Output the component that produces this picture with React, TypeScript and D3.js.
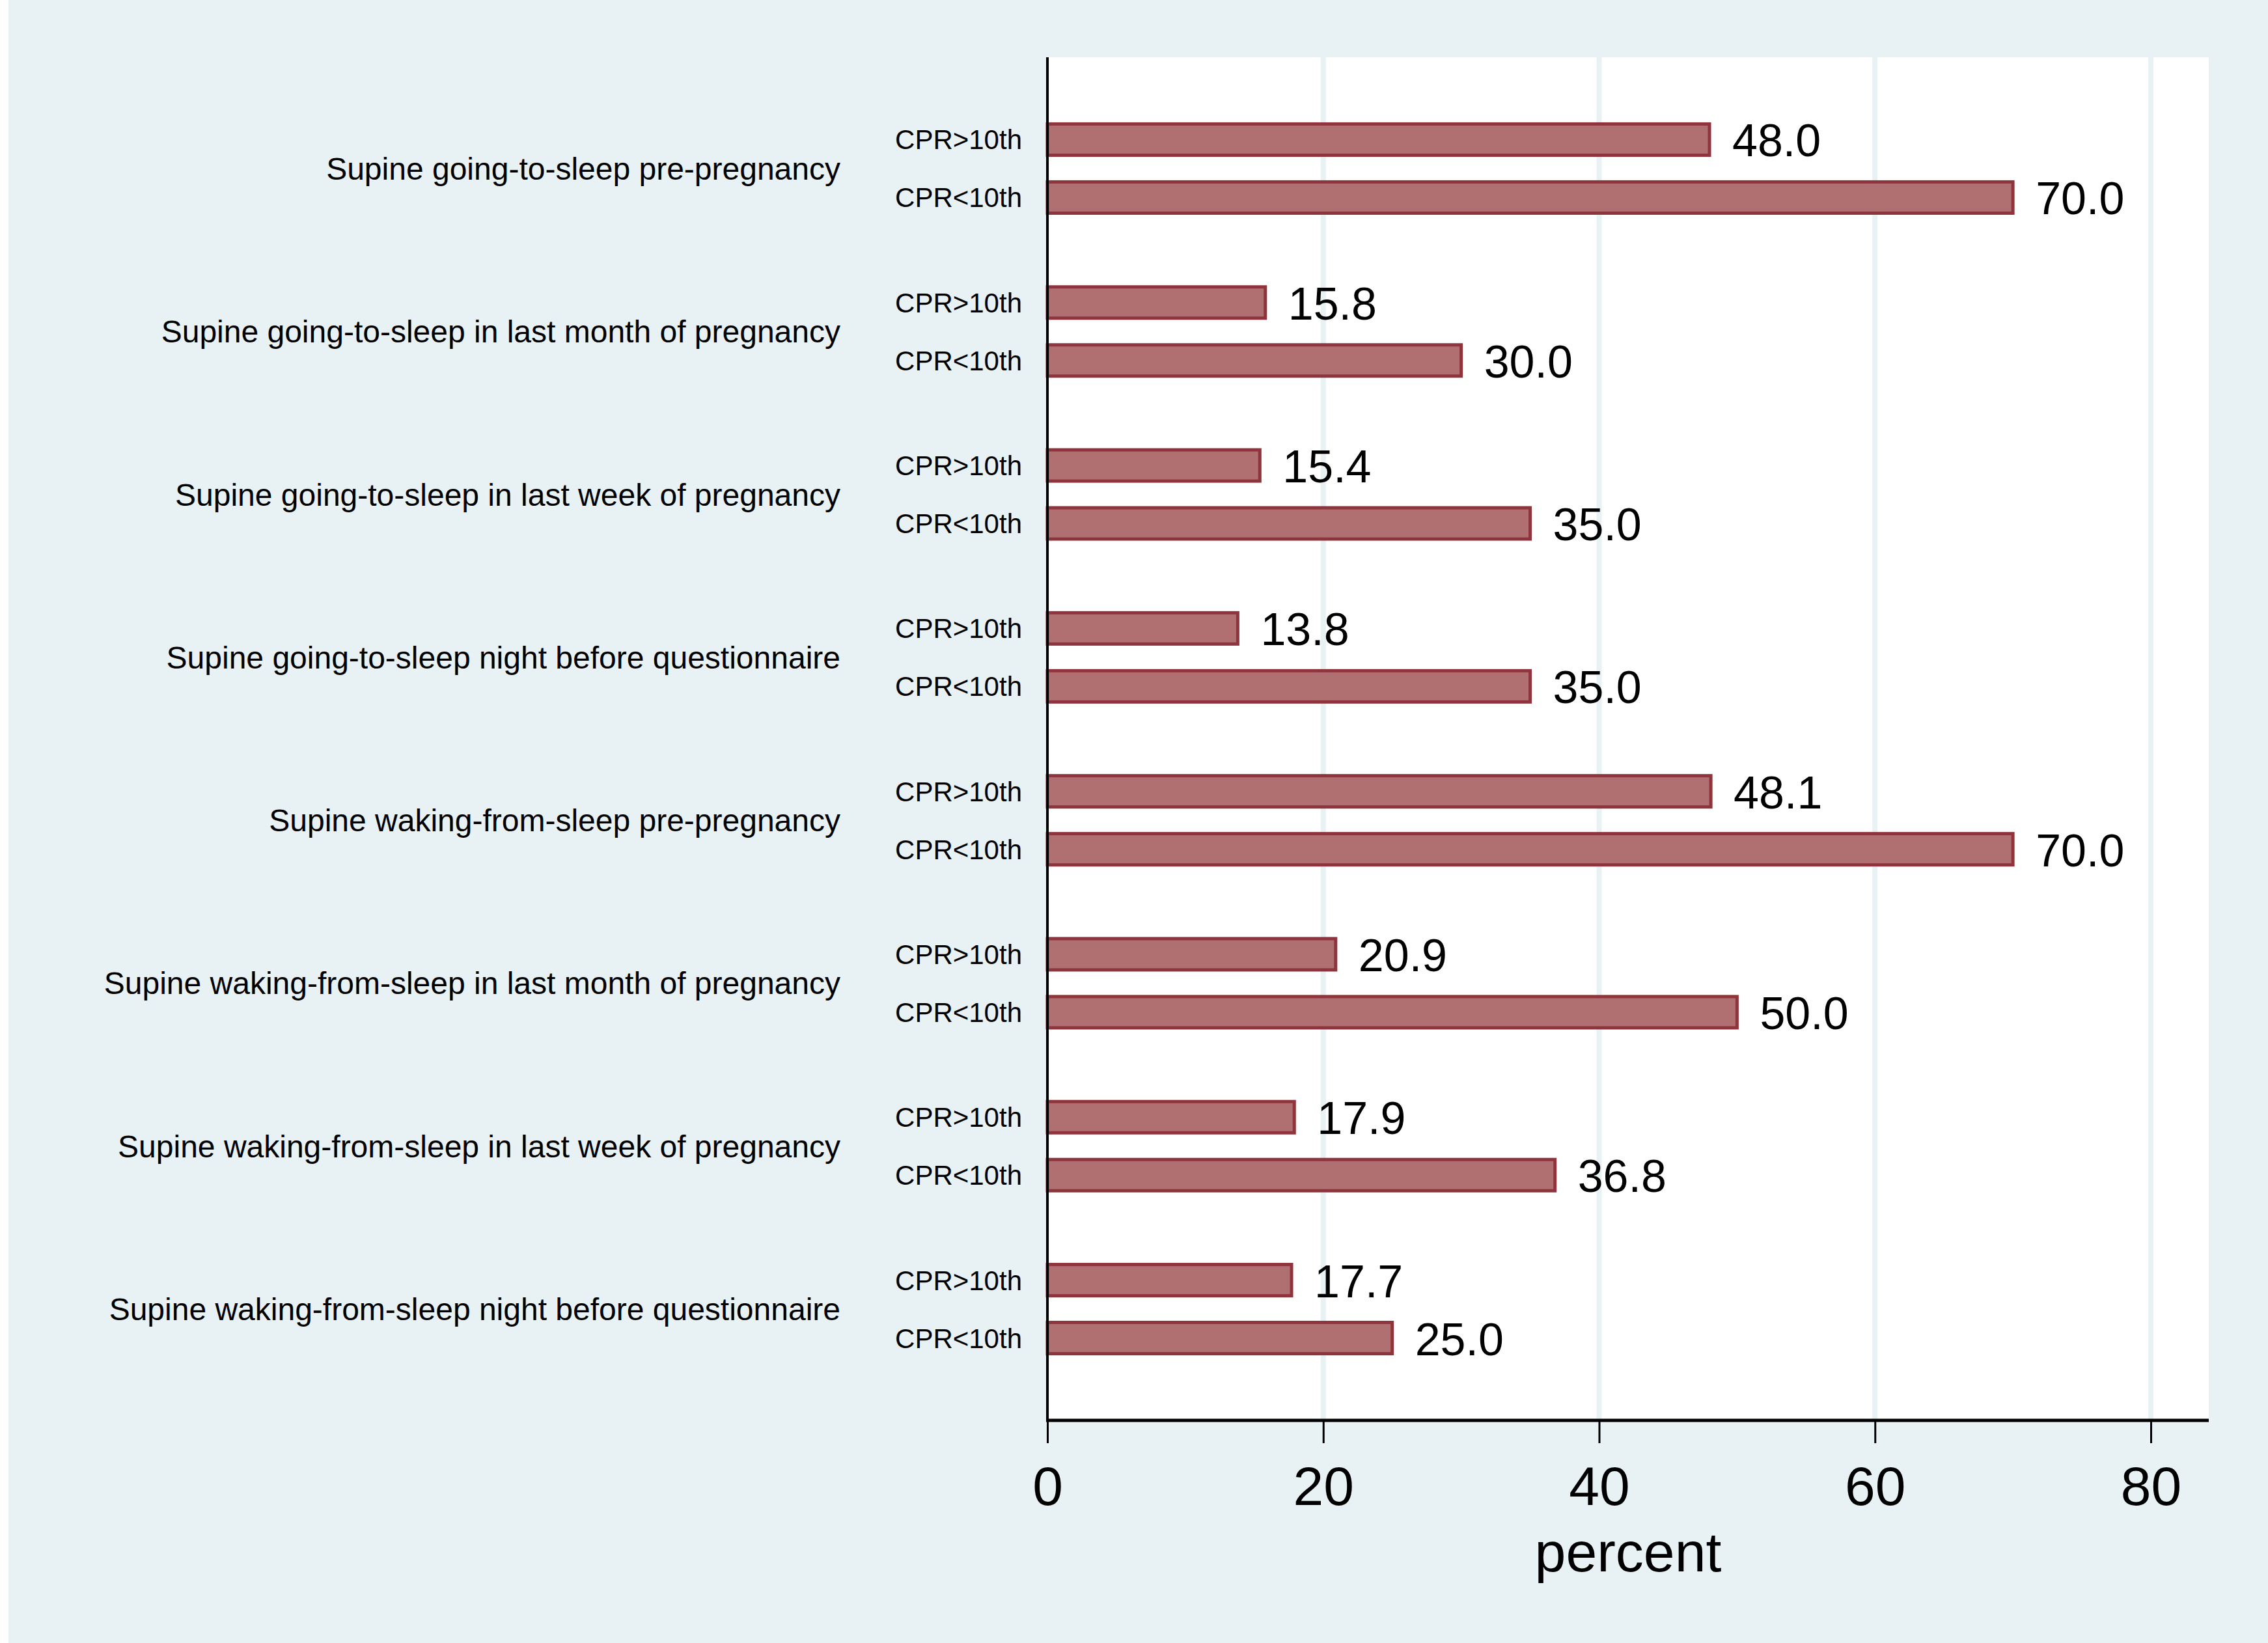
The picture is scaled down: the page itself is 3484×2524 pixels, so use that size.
import * as d3 from "d3";
import React from "react";
import { useEffect, RefObject } from "react";

const categories = [
    "Supine going-to-sleep pre-pregnancy",
    "Supine going-to-sleep in last month of pregnancy",
    "Supine going-to-sleep in last week of pregnancy",
    "Supine going-to-sleep night before questionnaire",
    "Supine waking-from-sleep pre-pregnancy",
    "Supine waking-from-sleep in last month of pregnancy",
    "Supine waking-from-sleep in last week of pregnancy",
    "Supine waking-from-sleep night before questionnaire",
];
const groups = ["CPR>10th", "CPR<10th"];
const cprAbove = [48.0, 15.8, 15.4, 13.8, 48.1, 20.9, 17.9, 17.7];
const cprBelow = [70.0, 30.0, 35.0, 35.0, 70.0, 50.0, 36.8, 25.0];
const xTicks = [0, 20, 40, 60, 80];
const xTitle = "percent";

const FONT = "'Liberation Sans', Arial, Helvetica, sans-serif";

function drawChart(svgRef: RefObject<SVGSVGElement>) {
    const width = 3484;
    const height = 2524;
    const plot = { left: 1609, right: 3393, top: 88, bottom: 2182 };

    const svg = d3.select(svgRef.current)
        .attr("width", width)
        .attr("height", height)
        .attr("viewBox", `0 0 ${width} ${height}`);

    svg.selectAll("*").remove();

    // background
    svg.append("rect").attr("width", width).attr("height", height).attr("fill", "#ffffff");
    svg.append("rect")
        .attr("x", 13).attr("y", 0)
        .attr("width", width - 13).attr("height", height)
        .attr("fill", "#e8f1f3");
    svg.append("rect")
        .attr("x", plot.left).attr("y", plot.top)
        .attr("width", plot.right - plot.left).attr("height", plot.bottom - plot.top)
        .attr("fill", "#ffffff");

    const x = d3.scaleLinear().domain([0, 80]).range([plot.left, 3304]);

    const y = d3.scaleBand()
        .domain(categories)
        .range([plot.top, plot.bottom])
        .paddingInner(0)
        .paddingOuter(0.183);

    const ySub = d3.scaleBand()
        .domain(groups)
        .range([-89, 89])
        .paddingInner(0.404)
        .paddingOuter(0.202);

    // grid lines
    svg.append("g")
        .selectAll("line")
        .data(xTicks.filter((d) => d > 0))
        .enter().append("line")
        .attr("x1", (d) => x(d)).attr("x2", (d) => x(d))
        .attr("y1", plot.top).attr("y2", plot.bottom)
        .attr("stroke", "#e8f1f3")
        .attr("stroke-width", 8);

    const rows: any[] = [];
    categories.forEach((c, i) => {
        rows.push({ cat: c, grp: groups[0], value: cprAbove[i] });
        rows.push({ cat: c, grp: groups[1], value: cprBelow[i] });
    });

    const center = (d: any) => (y(d.cat) || 0) + y.bandwidth() / 2 + (ySub(d.grp) || 0) + ySub.bandwidth() / 2;
    const barH = ySub.bandwidth() - 5;

    // bars
    svg.append("g")
        .selectAll("rect")
        .data(rows)
        .enter().append("rect")
        .attr("x", x(0))
        .attr("y", (d) => center(d) - barH / 2)
        .attr("width", (d) => x(d.value) - x(0))
        .attr("height", barH)
        .attr("fill", "#b07072")
        .attr("stroke", "#8f343c")
        .attr("stroke-width", 5);

    // value labels
    svg.append("g")
        .selectAll("text")
        .data(rows)
        .enter().append("text")
        .attr("x", (d) => x(d.value) + 35)
        .attr("y", (d) => center(d) + 26)
        .style("font-family", FONT)
        .style("font-size", "70px")
        .attr("fill", "#000")
        .text((d) => d.value.toFixed(1));

    // sub labels
    svg.append("g")
        .selectAll("text")
        .data(rows)
        .enter().append("text")
        .attr("x", 1570)
        .attr("y", (d) => center(d) + 15)
        .attr("text-anchor", "end")
        .style("font-family", FONT)
        .style("font-size", "42px")
        .attr("fill", "#000")
        .text((d) => d.grp);

    // category labels
    svg.append("g")
        .selectAll("text")
        .data(categories)
        .enter().append("text")
        .attr("x", 1291)
        .attr("y", (d) => (y(d) || 0) + y.bandwidth() / 2 + 17)
        .attr("text-anchor", "end")
        .style("font-family", FONT)
        .style("font-size", "48px")
        .attr("fill", "#000")
        .text((d) => d);

    // axes
    svg.append("line")
        .attr("x1", plot.left).attr("x2", plot.left)
        .attr("y1", plot.top).attr("y2", plot.bottom)
        .attr("stroke", "#000").attr("stroke-width", 4);

    const xAxis = d3.axisBottom(x)
        .tickValues(xTicks)
        .tickSize(35)
        .tickPadding(0)
        .tickFormat((d: any) => String(d));

    const gx = svg.append("g")
        .attr("transform", `translate(0,${plot.bottom})`)
        .call(xAxis);
    gx.select(".domain").remove();
    gx.selectAll(".tick line").attr("stroke", "#000").attr("stroke-width", 3);
    gx.selectAll(".tick text")
        .attr("y", 130)
        .attr("dy", null)
        .attr("fill", "#000")
        .style("font-family", FONT)
        .style("font-size", "84px");

    svg.append("line")
        .attr("x1", plot.left - 2).attr("x2", plot.right)
        .attr("y1", plot.bottom).attr("y2", plot.bottom)
        .attr("stroke", "#000").attr("stroke-width", 5);

    svg.append("text")
        .attr("x", (plot.left + plot.right) / 2)
        .attr("y", 2414)
        .attr("text-anchor", "middle")
        .style("font-family", FONT)
        .style("font-size", "86px")
        .attr("fill", "#000")
        .text(xTitle);
}

export default function App() {
    const svg = React.useRef<SVGSVGElement>(null);
    useEffect(() => {
        drawChart(svg);
    });

    return (
        <div style={{ position: "absolute", left: 0, top: 0 }}>
            <svg ref={svg} style={{ display: "block" }}></svg>
        </div>
    );
}
